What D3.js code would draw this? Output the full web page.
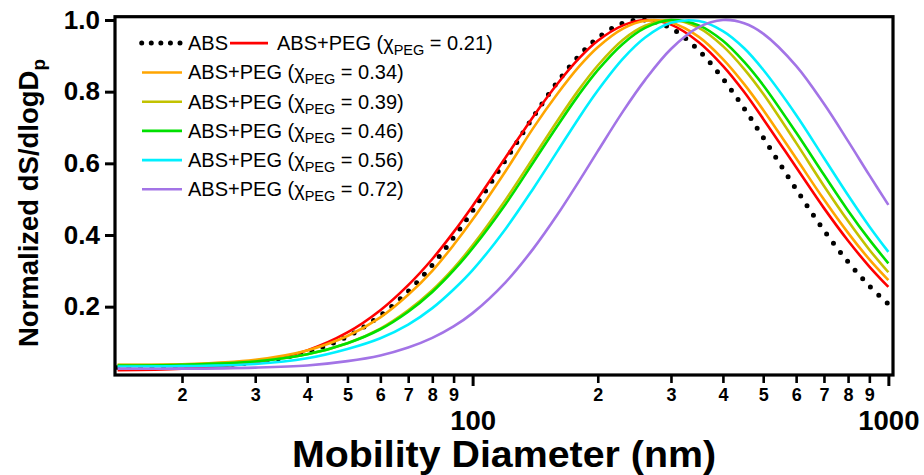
<!DOCTYPE html>
<html>
<head>
<meta charset="utf-8">
<script src="https://cdn.jsdelivr.net/npm/d3@7"></script>
<style>
  html, body { margin: 0; padding: 0; background: #fff; }
  svg { display: block; font-family: "Liberation Sans", Arial, sans-serif; }
</style>
</head>
<body>
<svg id="chart" width="924" height="475"></svg>
<script>
// ---------- data ----------
const diameters = [14, 20, 30, 40, 50, 60, 70, 80, 90, 100, 120, 140, 160, 180, 200, 230, 260, 300, 350, 400, 450, 500, 600, 700, 800, 900, 1000];

const absOnly = [0.030, 0.033, 0.045, 0.073, 0.117, 0.175, 0.243, 0.316, 0.393, 0.468, 0.609, 0.730, 0.827, 0.899, 0.950, 0.991, 1.000, 0.977, 0.915, 0.836, 0.753, 0.672, 0.528, 0.413, 0.325, 0.258, 0.207];
const peg021 = [0.023, 0.027, 0.044, 0.078, 0.128, 0.190, 0.260, 0.333, 0.408, 0.481, 0.616, 0.731, 0.822, 0.892, 0.942, 0.985, 1.000, 0.987, 0.938, 0.872, 0.799, 0.724, 0.589, 0.475, 0.384, 0.312, 0.255];
const peg034 = [0.037, 0.039, 0.052, 0.078, 0.118, 0.170, 0.233, 0.300, 0.372, 0.443, 0.578, 0.699, 0.794, 0.869, 0.924, 0.976, 0.998, 0.993, 0.953, 0.891, 0.821, 0.749, 0.614, 0.499, 0.406, 0.332, 0.274];
const peg039 = [0.038, 0.039, 0.048, 0.067, 0.098, 0.139, 0.190, 0.246, 0.307, 0.371, 0.498, 0.616, 0.719, 0.805, 0.873, 0.945, 0.984, 1.000, 0.978, 0.927, 0.863, 0.794, 0.657, 0.537, 0.439, 0.359, 0.296];
const peg046 = [0.036, 0.038, 0.047, 0.067, 0.098, 0.137, 0.186, 0.241, 0.301, 0.363, 0.486, 0.603, 0.705, 0.791, 0.860, 0.934, 0.978, 1.000, 0.985, 0.942, 0.883, 0.818, 0.686, 0.568, 0.468, 0.387, 0.321];
const peg056 = [0.033, 0.034, 0.040, 0.056, 0.082, 0.112, 0.150, 0.196, 0.248, 0.302, 0.417, 0.530, 0.634, 0.726, 0.803, 0.892, 0.951, 0.992, 0.997, 0.969, 0.921, 0.861, 0.735, 0.615, 0.511, 0.424, 0.353];
const peg072 = [0.027, 0.027, 0.030, 0.036, 0.048, 0.064, 0.086, 0.113, 0.145, 0.182, 0.268, 0.362, 0.457, 0.549, 0.634, 0.745, 0.833, 0.919, 0.980, 1.000, 0.991, 0.962, 0.872, 0.766, 0.662, 0.567, 0.484];

const pegFractions = ["0.21", "0.34", "0.39", "0.46", "0.56", "0.72"];
const pegSeries = [peg021, peg034, peg039, peg046, peg056, peg072];
const pegColors = ["#ff0000", "#ffa500", "#c2c200", "#00e000", "#00f0ff", "#a374e6"];

const yTickValues = [0.2, 0.4, 0.6, 0.8, 1.0];
const xMinorTicks = [20, 30, 40, 50, 60, 70, 80, 90, 200, 300, 400, 500, 600, 700, 800, 900];
const xMajorTicks = [100, 1000];

// ---------- layout ----------
const svg = d3.select("#chart");
const L = 115, R = 893, T = 16.7, B = 375;

const x = d3.scaleLog().domain([13.8, 1026]).range([L, R]);
const y = d3.scaleLinear().domain([0.0093, 1.0092]).range([B, T]);

svg.append("defs").append("clipPath").attr("id", "plotclip")
  .append("rect").attr("x", L).attr("y", T).attr("width", R - L).attr("height", B - T);

const line = d3.line()
  .x((d, i) => x(diameters[i]))
  .y(d => y(d))
  .curve(d3.curveCatmullRom.alpha(0.5));

const plot = svg.append("g").attr("clip-path", "url(#plotclip)");

// ABS dotted
plot.append("path")
  .attr("d", line(absOnly))
  .attr("fill", "none")
  .attr("stroke", "#000")
  .attr("stroke-width", 5)
  .attr("stroke-linecap", "round")
  .attr("stroke-dasharray", "0 11.5");

pegSeries.forEach((s, k) => {
  plot.append("path")
    .attr("d", line(s))
    .attr("fill", "none")
    .attr("stroke", pegColors[k])
    .attr("stroke-width", 2.6);
});

// ---------- axes ----------
const yAxis = d3.axisLeft(y).tickValues(yTickValues).tickFormat(d3.format(".1f"))
  .tickSize(10).tickPadding(5);
const gy = svg.append("g").attr("transform", `translate(${L},0)`).call(yAxis);
gy.select(".domain").remove();
gy.selectAll(".tick line").attr("stroke", "#000").attr("stroke-width", 3);
gy.selectAll(".tick text").attr("font-size", 26).attr("font-weight", "bold")
  .attr("fill", "#000").attr("font-family", "Liberation Sans, Arial, sans-serif");

const xMinor = d3.axisBottom(x).tickValues(xMinorTicks)
  .tickFormat(d => String(Math.round(d / Math.pow(10, Math.floor(Math.log10(d) + 1e-9)))))
  .tickSize(8).tickPadding(5);
const gxm = svg.append("g").attr("transform", `translate(0,${B})`).call(xMinor);
gxm.select(".domain").remove();
gxm.selectAll(".tick line").attr("stroke", "#000").attr("stroke-width", 2.6);
gxm.selectAll(".tick text").attr("font-size", 18).attr("font-weight", "bold")
  .attr("fill", "#000").attr("font-family", "Liberation Sans, Arial, sans-serif");

const xMajor = d3.axisBottom(x).tickValues(xMajorTicks).tickFormat(d3.format("d"))
  .tickSize(11).tickPadding(24);
const gxM = svg.append("g").attr("transform", `translate(0,${B})`).call(xMajor);
gxM.select(".domain").remove();
gxM.selectAll(".tick line").attr("stroke", "#000").attr("stroke-width", 3);
gxM.selectAll(".tick text").attr("font-size", 27.5).attr("font-weight", "bold")
  .attr("fill", "#000").attr("font-family", "Liberation Sans, Arial, sans-serif");

// frame
svg.append("rect").attr("x", L).attr("y", T).attr("width", R - L).attr("height", B - T)
  .attr("fill", "none").attr("stroke", "#000").attr("stroke-width", 3.2);

// ---------- titles ----------
svg.append("text")
  .attr("x", (L + R) / 2).attr("y", 467)
  .attr("text-anchor", "middle")
  .attr("font-size", 36).attr("font-weight", "bold")
  .attr("textLength", 424).attr("lengthAdjust", "spacingAndGlyphs")
  .text("Mobility Diameter (nm)");

const yt = svg.append("text")
  .attr("transform", `translate(38,203) rotate(-90)`)
  .attr("text-anchor", "middle")
  .attr("font-size", 27.5).attr("font-weight", "bold");
yt.append("tspan").text("Normalized dS/dlogD");
yt.append("tspan").attr("font-size", 19).attr("dy", 7).text("p");

// ---------- legend ----------
const leg = svg.append("g").attr("font-size", 20).attr("fill", "#000");
const rowBase = [50, 79.4, 108.6, 137.8, 167, 196.2];

function pegLabel(g, xPos, base, frac) {
  const t = g.append("text").attr("x", xPos).attr("y", base);
  t.append("tspan").text("ABS+PEG (\u03C7");
  t.append("tspan").attr("font-size", 14.5).attr("dy", 5).text("PEG");
  t.append("tspan").attr("dy", -5).text(" = " + frac + ")");
}

// row 1: ABS dotted + first PEG
const r1 = rowBase[0] - 6.9;
leg.append("line").attr("x1", 141.7).attr("x2", 180).attr("y1", r1).attr("y2", r1)
  .attr("stroke", "#000").attr("stroke-width", 5).attr("stroke-linecap", "round")
  .attr("stroke-dasharray", "0 9.575");
leg.append("text").attr("x", 188).attr("y", rowBase[0]).text("ABS");
leg.append("line").attr("x1", 230).attr("x2", 268).attr("y1", r1).attr("y2", r1)
  .attr("stroke", pegColors[0]).attr("stroke-width", 2.6);
pegLabel(leg, 277, rowBase[0], pegFractions[0]);

for (let k = 1; k < pegFractions.length; k++) {
  const cy = rowBase[k] - 6.9;
  leg.append("line").attr("x1", 142).attr("x2", 182).attr("y1", cy).attr("y2", cy)
    .attr("stroke", pegColors[k]).attr("stroke-width", 2.6);
  pegLabel(leg, 188, rowBase[k], pegFractions[k]);
}
</script>
</body>
</html>
